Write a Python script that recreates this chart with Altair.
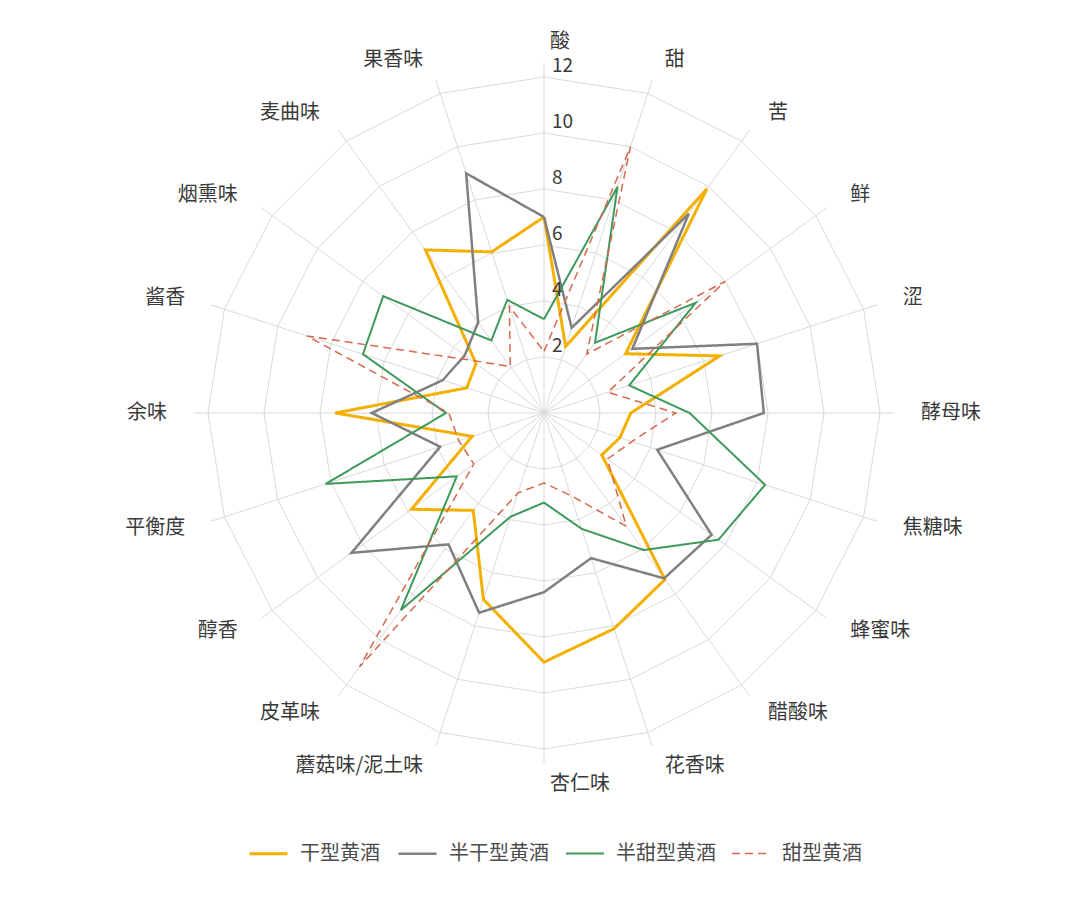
import math

import altair as alt
import pandas as pd

# radar chart of Chinese rice wine (黄酒) flavour profiles

categories = ["酸", "甜", "苦", "鲜", "涩", "酵母味", "焦糖味", "蜂蜜味", "醋酸味", "花香味",
              "杏仁味", "蘑菇味/泥土味", "皮革味", "醇香", "平衡度", "余味", "酱香", "烟熏味",
              "麦曲味", "果香味"]
series = ["干型黄酒", "半干型黄酒", "半甜型黄酒", "甜型黄酒"]

dry = [7.0, 2.5, 9.9, 3.6, 6.6, 3.1, 2.85, 2.55, 7.35, 8.1,
       8.9, 7.0, 4.3, 5.85, 2.7, 7.45, 2.9, 3.0, 7.2, 6.05]
semi_dry = [7.0, 3.2, 8.8, 3.9, 8.0, 7.85, 4.25, 7.4, 7.3, 5.45,
            6.4, 7.5, 5.8, 8.5, 3.9, 6.15, 3.8, 3.5, 4.0, 9.0]
semi_sweet = [3.35, 8.5, 3.1, 6.7, 3.2, 5.2, 8.3, 7.7, 6.05, 4.35,
              3.2, 3.9, 8.7, 3.85, 8.2, 3.5, 6.8, 7.1, 3.2, 4.25]
sweet = [2.2, 10.0, 2.6, 8.0, 2.4, 4.7, 3.3, 2.8, 5.0, 3.1,
         2.5, 3.0, 11.2, 3.1, 3.2, 3.4, 8.9, 3.2, 2.05, 4.0]

ring_values = [2, 4, 6, 8, 10, 12]
tick_labels = ["2", "4", "6", "8", "10", "12"]

colors = ["#F4B000", "#808080", "#3E9A5C", "#D6694B"]
dashes = [[1, 0], [1, 0], [1, 0], [8, 5]]
widths = [3, 1.5, 1.5, 1.5]

W, H = 1064, 883
PX = 28.0            # pixels per unit
CX, CY = 536, 405    # centre inside plot area
LABEL_R = 371 / PX
SPOKE_R = 12.5

n = len(categories)


def polar(v, i):
    a = math.radians(i * 360 / n)
    return v * math.sin(a), v * math.cos(a)


rows = []
for name, vals in zip(series, [dry, semi_dry, semi_sweet, sweet]):
    for k in range(n + 1):
        i = k % n
        x, y = polar(vals[i], i)
        rows.append({"series": name, "order": k, "cat": categories[i],
                     "value": vals[i], "x": x, "y": y})
df = pd.DataFrame(rows)

rings = []
for r in ring_values:
    for k in range(n + 1):
        x, y = polar(r, k % n)
        rings.append({"ring": r, "order": k, "x": x, "y": y})
rings = pd.DataFrame(rings)

spokes = pd.DataFrame([{"x": 0.0, "y": 0.0,
                        "x2": polar(SPOKE_R, i)[0], "y2": polar(SPOKE_R, i)[1]}
                       for i in range(n)])

labels = []
for i, c in enumerate(categories):
    x, y = polar(LABEL_R, i)
    labels.append({"cat": c, "x": x, "y": y, "side": "right" if x < -0.5 else "left"})
labels = pd.DataFrame(labels)

ticks = pd.DataFrame({"v": ring_values, "t": tick_labels, "x": 0.0})

xs = alt.Scale(domain=[-CX / PX, (W - CX) / PX], nice=False, zero=False)
ys = alt.Scale(domain=[-(H - CY) / PX, CY / PX], nice=False, zero=False)
X = lambda f="x": alt.X(f"{f}:Q", scale=xs, axis=None)
Y = lambda f="y": alt.Y(f"{f}:Q", scale=ys, axis=None)

FONT = "Noto Sans CJK SC"
TXT = "#3A3A3A"

grid = alt.Chart(rings).mark_line(color="#D9D9D9", strokeWidth=1).encode(
    x=X(), y=Y(), detail="ring:N", order="order:Q")

spoke = alt.Chart(spokes).mark_rule(color="#D9D9D9", strokeWidth=1).encode(
    x=X(), y=Y(), x2="x2:Q", y2="y2:Q")

lines = alt.Chart(df).mark_line(strokeJoin="miter").encode(
    x=X(), y=Y(),
    order="order:Q",
    color=alt.Color("series:N", scale=alt.Scale(domain=series, range=colors),
                    legend=alt.Legend(title=None, orient="none", direction="horizontal",
                                      legendX=240, legendY=825, symbolType="stroke",
                                      symbolSize=1444, labelFont=FONT, labelFontSize=20,
                                      labelColor="#4D4D4D", labelOffset=11,
                                      columnPadding=13)),
    strokeDash=alt.StrokeDash("series:N", scale=alt.Scale(domain=series, range=dashes),
                              legend=None),
    strokeWidth=alt.StrokeWidth("series:N", scale=alt.Scale(domain=series, range=widths),
                                legend=None),
    tooltip=["series:N", "cat:N", "value:Q"],
)

lab_left = alt.Chart(labels).transform_filter("datum.side == 'left'").mark_text(
    align="left", baseline="middle", dx=6, font=FONT, fontSize=20, color=TXT
).encode(x=X(), y=Y(), text="cat:N")

lab_right = alt.Chart(labels).transform_filter("datum.side == 'right'").mark_text(
    align="right", baseline="middle", dx=-6, font=FONT, fontSize=20, color=TXT
).encode(x=X(), y=Y(), text="cat:N")

tick_text = alt.Chart(ticks).mark_text(
    align="left", baseline="middle", dx=8, dy=-11, font=FONT, fontSize=19, color=TXT
).encode(x=X(), y=Y("v"), text="t:N")

chart = (
    alt.layer(grid, spoke, lines, tick_text, lab_left, lab_right)
    .properties(width=W, height=H, padding=0, autosize="none", background="white")
    .configure_view(strokeWidth=0)
)

chart.save("out.html", embed_options={"renderer": "svg", "actions": False})
